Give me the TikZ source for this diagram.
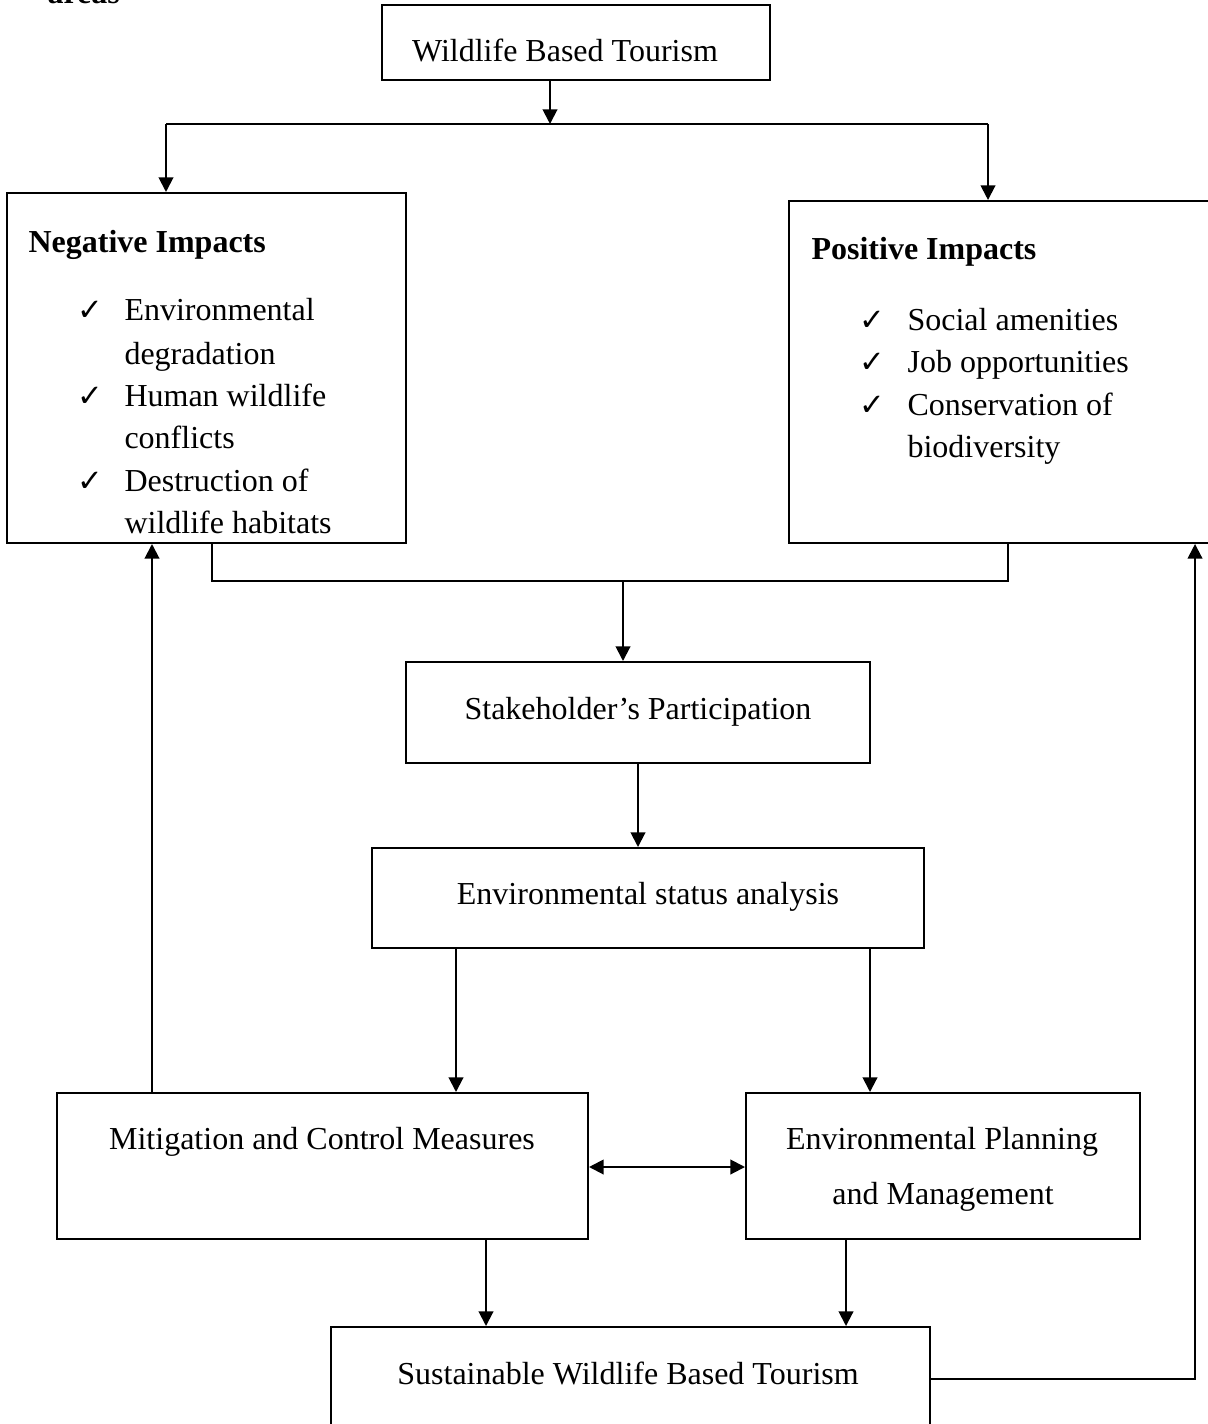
\documentclass[tikz,border=0pt]{standalone}
\usepackage{fontspec}
\setmainfont{Liberation Serif}
\newfontfamily\symfont{DejaVu Sans}
\usetikzlibrary{arrows.meta,fit}
\begin{document}
\begin{tikzpicture}[x=0.375pt,y=-0.375pt,
  box/.style={draw,line width=0.75pt,inner sep=0pt,rectangle},
  txt/.style={inner sep=0pt,font=\fontsize{12}{14}\selectfont},
  hd/.style={txt,font=\fontsize{12}{14}\selectfont\bfseries,anchor=base west},
  item/.style={txt,anchor=base west},
  ck/.style={inner sep=0pt,anchor=base west,font=\fontsize{11.5}{12}\selectfont\symfont},
  ctr/.style={txt,anchor=base},
  ln/.style={line width=0.75pt},
  arr/.style={ln,-{Triangle[length=5.5pt,width=5.5pt]}},
  dbl/.style={ln,{Triangle[length=5.5pt,width=5.5pt]}-{Triangle[length=5.5pt,width=5.5pt]}}]
\useasboundingbox (0,0) rectangle (1207,1424);

% caption fragment
\node[hd] (cap) at (47,4) {areas};

% boxes
\node[box,fit={(382,5) (770,80)}] (wbt) {};
\node[box,fit={(7,193) (406,543)}] (neg) {};
\node[box,fit={(789,201) (1220,543)}] (pos) {};
\node[box,fit={(406,662) (870,763)}] (stake) {};
\node[box,fit={(372,848) (924,948)}] (envs) {};
\node[box,fit={(57,1093) (588,1239)}] (mit) {};
\node[box,fit={(746,1093) (1140,1239)}] (plan) {};
\node[box,fit={(331,1327) (930,1440)}] (sust) {};

% texts
\node[ctr] (twbt) at (565,62) {Wildlife Based Tourism};

\node[hd] (tneg) at (28,253) {Negative Impacts};
\node[ck] (cn1) at (77,321) {✓};
\node[item] (n1a) at (124,321) {Environmental};
\node[item] (n1b) at (124,365) {degradation};
\node[ck] (cn2) at (77,407) {✓};
\node[item] (n2a) at (124,407) {Human wildlife};
\node[item] (n2b) at (124,449) {conflicts};
\node[ck] (cn3) at (77,492) {✓};
\node[item] (n3a) at (124,492) {Destruction of};
\node[item] (n3b) at (124,534) {wildlife habitats};

\node[hd] (tpos) at (811,260) {Positive Impacts};
\node[ck] (cp1) at (859,331) {✓};
\node[item] (p1) at (907,331) {Social amenities};
\node[ck] (cp2) at (859,373) {✓};
\node[item] (p2) at (907,373) {Job opportunities};
\node[ck] (cp3) at (859,416) {✓};
\node[item] (p3a) at (907,416) {Conservation of};
\node[item] (p3b) at (907,458) {biodiversity};

\node[ctr] (tstake) at (638,719) {Stakeholder’s Participation};
\node[ctr] (tenvs) at (648,904) {Environmental status analysis};
\node[ctr] (tmit) at (322,1149) {Mitigation and Control Measures};
\node[ctr] (tplan1) at (942,1149) {Environmental Planning};
\node[ctr] (tplan2) at (943,1204) {and Management};
\node[ctr] (tsust) at (628,1384) {Sustainable Wildlife Based Tourism};

% connectors
\coordinate (split) at (550,124);
\coordinate (nl) at (166,124);
\coordinate (pl) at (988,124);
\draw[arr] (wbt.south -| split) -- (split);
\draw[ln] (nl) -- (pl);
\draw[arr] (nl) -- (nl |- neg.north);
\draw[arr] (pl) -- (pl |- pos.north);

\coordinate (jl) at (212,581);
\coordinate (jr) at (1008,581);
\coordinate (jm) at (623,581);
\draw[ln] (jl |- neg.south) -- (jl) -- (jr) -- (jr |- pos.south);
\draw[arr] (jm) -- (jm |- stake.north);

\coordinate (sx) at (638,0);
\draw[arr] (stake.south -| sx) -- (envs.north -| sx);

\coordinate (ml) at (456,0);
\coordinate (mr) at (870,0);
\draw[arr] (envs.south -| ml) -- (mit.north -| ml);
\draw[arr] (envs.south -| mr) -- (plan.north -| mr);

\coordinate (dy) at (0,1167);
\draw[dbl] (mit.east |- dy) -- (plan.west |- dy);

\coordinate (fb) at (152,0);
\draw[arr] (mit.north -| fb) -- (neg.south -| fb);

\coordinate (bl) at (486,0);
\coordinate (br) at (846,0);
\draw[arr] (mit.south -| bl) -- (sust.north -| bl);
\draw[arr] (plan.south -| br) -- (sust.north -| br);

\coordinate (rr) at (1195,1379);
\draw[arr] (sust.east |- rr) -- (rr) -- (rr |- pos.south);
\end{tikzpicture}
\end{document}
